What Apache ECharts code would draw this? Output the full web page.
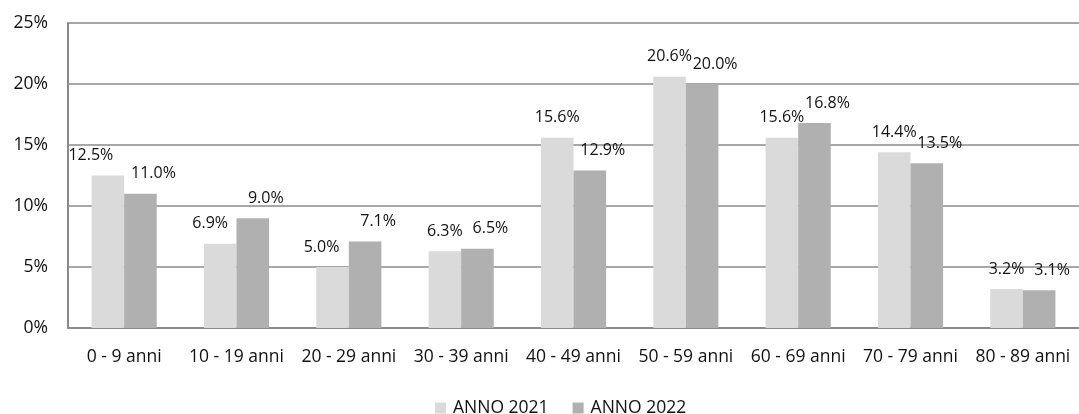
<!DOCTYPE html>
<html>
<head>
<meta charset="utf-8">
<script src="https://cdn.jsdelivr.net/npm/echarts@6/dist/echarts.min.js"></script>
<style>
  html, body { margin: 0; padding: 0; background: #fff; }
  #chart { width: 1079px; height: 414px; }
</style>
</head>
<body>
<div id="chart"></div>
<script>
// Age bands and share of cases per year (percent)
const categories = ['0 - 9 anni', '10 - 19 anni', '20 - 29 anni', '30 - 39 anni', '40 - 49 anni',
                    '50 - 59 anni', '60 - 69 anni', '70 - 79 anni', '80 - 89 anni'];
const anno2021 = [12.5, 6.9, 5.0, 6.3, 15.6, 20.6, 15.6, 14.4, 3.2];
const anno2022 = [11.0, 9.0, 7.1, 6.5, 12.9, 20.0, 16.8, 13.5, 3.1];
const seriesNames = ['ANNO 2021', 'ANNO 2022'];
const yTicks = [0, 5, 10, 15, 20, 25];

const FONT = '"Open Sans", "Noto Sans", sans-serif';
const TEXT = '#111111';

// nudge the first few 2021 labels left so they clear the neighbouring labels
const shift2021 = [-17, -10, -11];

const pct = v => v.toFixed(1) + '%';

const chart = echarts.init(document.getElementById('chart'), null, { renderer: 'canvas' });

chart.setOption({
  animation: false,
  backgroundColor: '#ffffff',
  textStyle: { fontFamily: FONT },
  grid: { left: 68, top: 23, width: 1019, height: 305, containLabel: false },
  legend: {
    data: seriesNames,
    left: 430,
    top: 394,
    icon: 'rect',
    itemWidth: 11,
    itemHeight: 11,
    itemGap: 24,
    textStyle: { fontFamily: FONT, fontSize: 17.5, color: TEXT, padding: [0, 0, 0, 2] }
  },
  xAxis: {
    type: 'category',
    data: categories,
    axisLine: { show: true, lineStyle: { color: '#8a8a8a', width: 2 } },
    axisTick: { show: false },
    axisLabel: { interval: 0, margin: 20, fontFamily: FONT, fontSize: 17.5, color: TEXT }
  },
  yAxis: {
    type: 'value',
    min: yTicks[0],
    max: yTicks[yTicks.length - 1],
    interval: yTicks[1] - yTicks[0],
    axisLine: { show: true, lineStyle: { color: '#8a8a8a', width: 2 } },
    axisTick: { show: false },
    splitLine: { show: true, lineStyle: { color: '#8a8a8a', width: 1.5 } },
    axisLabel: { margin: 20, fontFamily: FONT, fontSize: 17.5, color: TEXT, formatter: '{value}%' }
  },
  series: [
    {
      name: seriesNames[0],
      type: 'bar',
      data: anno2021.map((v, i) => (
        i < shift2021.length ? { value: v, label: { offset: [shift2021[i], 0] } } : v
      )),
      barGap: '0%',
      barCategoryGap: '42%',
      itemStyle: { color: '#dadada' },
      label: {
        show: true, position: 'top', distance: 12,
        fontFamily: FONT, fontSize: 16, color: TEXT,
        formatter: p => pct(p.value)
      }
    },
    {
      name: seriesNames[1],
      type: 'bar',
      data: anno2022,
      barGap: '0%',
      barCategoryGap: '42%',
      itemStyle: { color: '#b0b0b0' },
      label: {
        show: true, position: 'top', distance: 12, offset: [13, 0],
        fontFamily: FONT, fontSize: 16, color: TEXT,
        formatter: p => pct(p.value)
      }
    }
  ]
});
</script>
</body>
</html>
